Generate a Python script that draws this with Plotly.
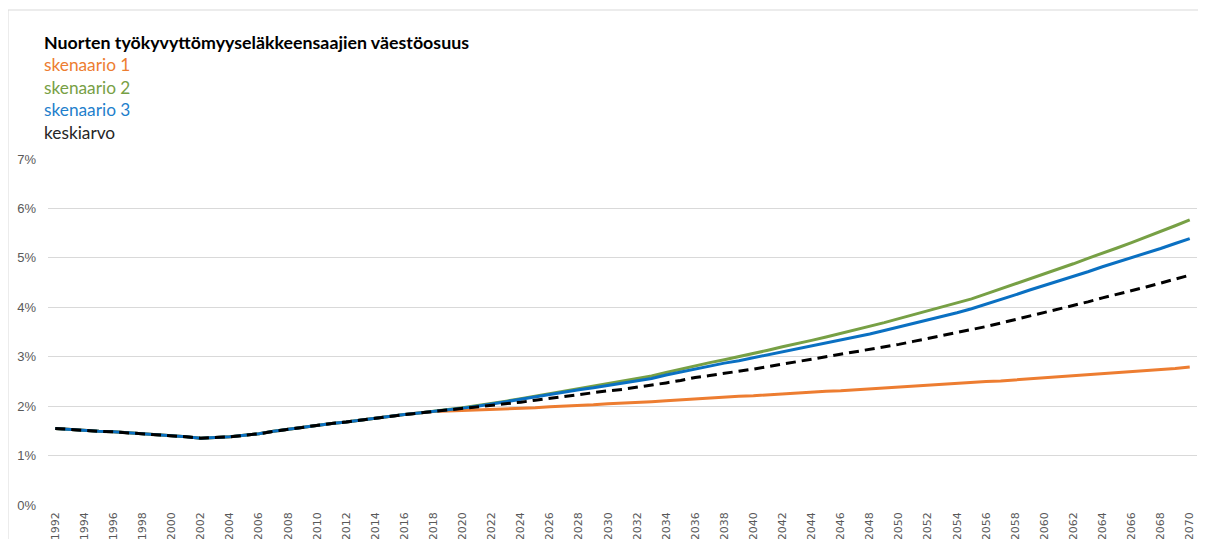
import plotly.graph_objects as go

years = list(range(1992, 2071))

history = [1.55, 1.53, 1.50, 1.49, 1.48, 1.46, 1.44, 1.43, 1.41, 1.38,
           1.35, 1.36, 1.38, 1.41, 1.44, 1.49, 1.53, 1.58, 1.61, 1.65,
           1.68, 1.72, 1.76, 1.80, 1.83, 1.86, 1.89]  # 1992-2018

skenaario1_future = [1.90, 1.91, 1.92, 1.93, 1.95, 1.96, 1.97, 1.99, 2.00, 2.02,
                     2.03, 2.05, 2.06, 2.08, 2.09, 2.11, 2.13, 2.15, 2.17, 2.18,
                     2.20, 2.21, 2.23, 2.25, 2.26, 2.28, 2.30, 2.31, 2.33, 2.35,
                     2.37, 2.38, 2.40, 2.42, 2.44, 2.46, 2.48, 2.50, 2.51, 2.53,
                     2.55, 2.57, 2.59, 2.61, 2.63, 2.65, 2.67, 2.69, 2.72, 2.74,
                     2.76, 2.79]  # 2019-2070

skenaario2_future = [1.93, 1.97, 2.01, 2.06, 2.10, 2.15, 2.20, 2.25, 2.30, 2.35,
                     2.40, 2.45, 2.50, 2.55, 2.61, 2.68, 2.75, 2.82, 2.88, 2.94,
                     3.00, 3.06, 3.13, 3.20, 3.26, 3.33, 3.40, 3.47, 3.54, 3.61,
                     3.69, 3.77, 3.85, 3.93, 4.01, 4.09, 4.17, 4.27, 4.37, 4.47,
                     4.57, 4.67, 4.78, 4.88, 4.99, 5.09, 5.20, 5.31, 5.42, 5.53,
                     5.65, 5.77]

skenaario3_future = [1.93, 1.96, 2.00, 2.04, 2.09, 2.14, 2.19, 2.24, 2.28, 2.33,
                     2.37, 2.42, 2.46, 2.51, 2.56, 2.63, 2.69, 2.76, 2.81, 2.87,
                     2.92, 2.98, 3.04, 3.09, 3.15, 3.21, 3.27, 3.33, 3.39, 3.46,
                     3.53, 3.60, 3.67, 3.75, 3.82, 3.89, 3.97, 4.06, 4.16, 4.25,
                     4.35, 4.44, 4.54, 4.63, 4.72, 4.82, 4.91, 5.00, 5.10, 5.19,
                     5.29, 5.39]

keskiarvo_future = [1.92, 1.95, 1.98, 2.01, 2.05, 2.08, 2.12, 2.16, 2.19, 2.23,
                    2.27, 2.31, 2.34, 2.38, 2.42, 2.47, 2.52, 2.58, 2.62, 2.66,
                    2.71, 2.75, 2.80, 2.85, 2.89, 2.94, 2.99, 3.04, 3.09, 3.14,
                    3.20, 3.25, 3.31, 3.37, 3.42, 3.48, 3.54, 3.61, 3.68, 3.75,
                    3.82, 3.89, 3.97, 4.04, 4.11, 4.19, 4.26, 4.33, 4.41, 4.49,
                    4.57, 4.65]

series = [
    ("skenaario 1", history + skenaario1_future, "#ED7D31", "solid", "#ED7D31"),
    ("skenaario 2", history + skenaario2_future, "#77A045", "solid", "#77A045"),
    ("skenaario 3", history + skenaario3_future, "#0A70C2", "solid", "#1F7FCC"),
    ("keskiarvo", history + keskiarvo_future, "#000000", "10px,6px", "#262626"),
]

title_text = "Nuorten työkyvyttömyyseläkkeensaajien väestöosuus"

# page body has an 8px margin; work in screen pixels and convert
OFF = 8
W, H = 1206 - OFF, 539 - OFF
L, R, T, B = 48 - OFF, 9, 159 - OFF, 34
pw, ph = W - L - R, H - T - B


def px_x(x):
    return (x - OFF - L) / pw


def px_y(y):
    return (H - B - (y - OFF)) / ph


fig = go.Figure()
for name, vals, color, dash, _ in series:
    fig.add_trace(go.Scatter(
        x=years, y=[v / 100 for v in vals], mode="lines", name=name,
        line=dict(color=color, width=3, dash=dash),
        hoverinfo="x+y+name",
    ))

font_family = "Lato, 'Open Sans', sans-serif"

annotations = [dict(text="<b>" + title_text + "</b>", x=px_x(42), y=px_y(42),
                    xref="paper", yref="paper", xanchor="left", yanchor="middle",
                    showarrow=False, font=dict(family=font_family, size=17.8, color="#000000"))]
for i, (name, _, _, _, tcolor) in enumerate(series):
    annotations.append(dict(text=name, x=px_x(42), y=px_y(64.5 + i * 22.7),
                            xref="paper", yref="paper", xanchor="left", yanchor="middle",
                            showarrow=False, font=dict(family=font_family, size=17.3, color=tcolor)))

fig.update_layout(
    width=W, height=H,
    margin=dict(l=L, r=R, t=T, b=B, pad=0, autoexpand=False),
    paper_bgcolor="white", plot_bgcolor="white",
    showlegend=False,
    font=dict(family=font_family, color="#595959"),
    annotations=annotations,
    shapes=[dict(type="rect", xref="paper", yref="paper",
                 x0=px_x(8), x1=px_x(1230), y0=px_y(580), y1=px_y(10),
                 line=dict(color="#D9D9D9", width=1), layer="below")],
    xaxis=dict(range=[1991.5, 2070.5], tickmode="linear", tick0=1992, dtick=2,
               tickangle=-90, showgrid=False, zeroline=False, showline=False,
               ticks="", automargin=False, ticklabelstandoff=4,
               tickfont=dict(size=11, color="#595959",
                             family="'DejaVu Sans', sans-serif")),
    yaxis=dict(range=[0, 0.07], dtick=0.01, tickformat=".0%",
               showgrid=True, gridcolor="#D9D9D9", gridwidth=1,
               zeroline=False, showline=False, ticks="", automargin=False,
               ticklabelstandoff=11,
               tickfont=dict(size=13, color="#595959",
                             family="'Liberation Sans', Arial, sans-serif")),
)

fig.write_html("out.html")
